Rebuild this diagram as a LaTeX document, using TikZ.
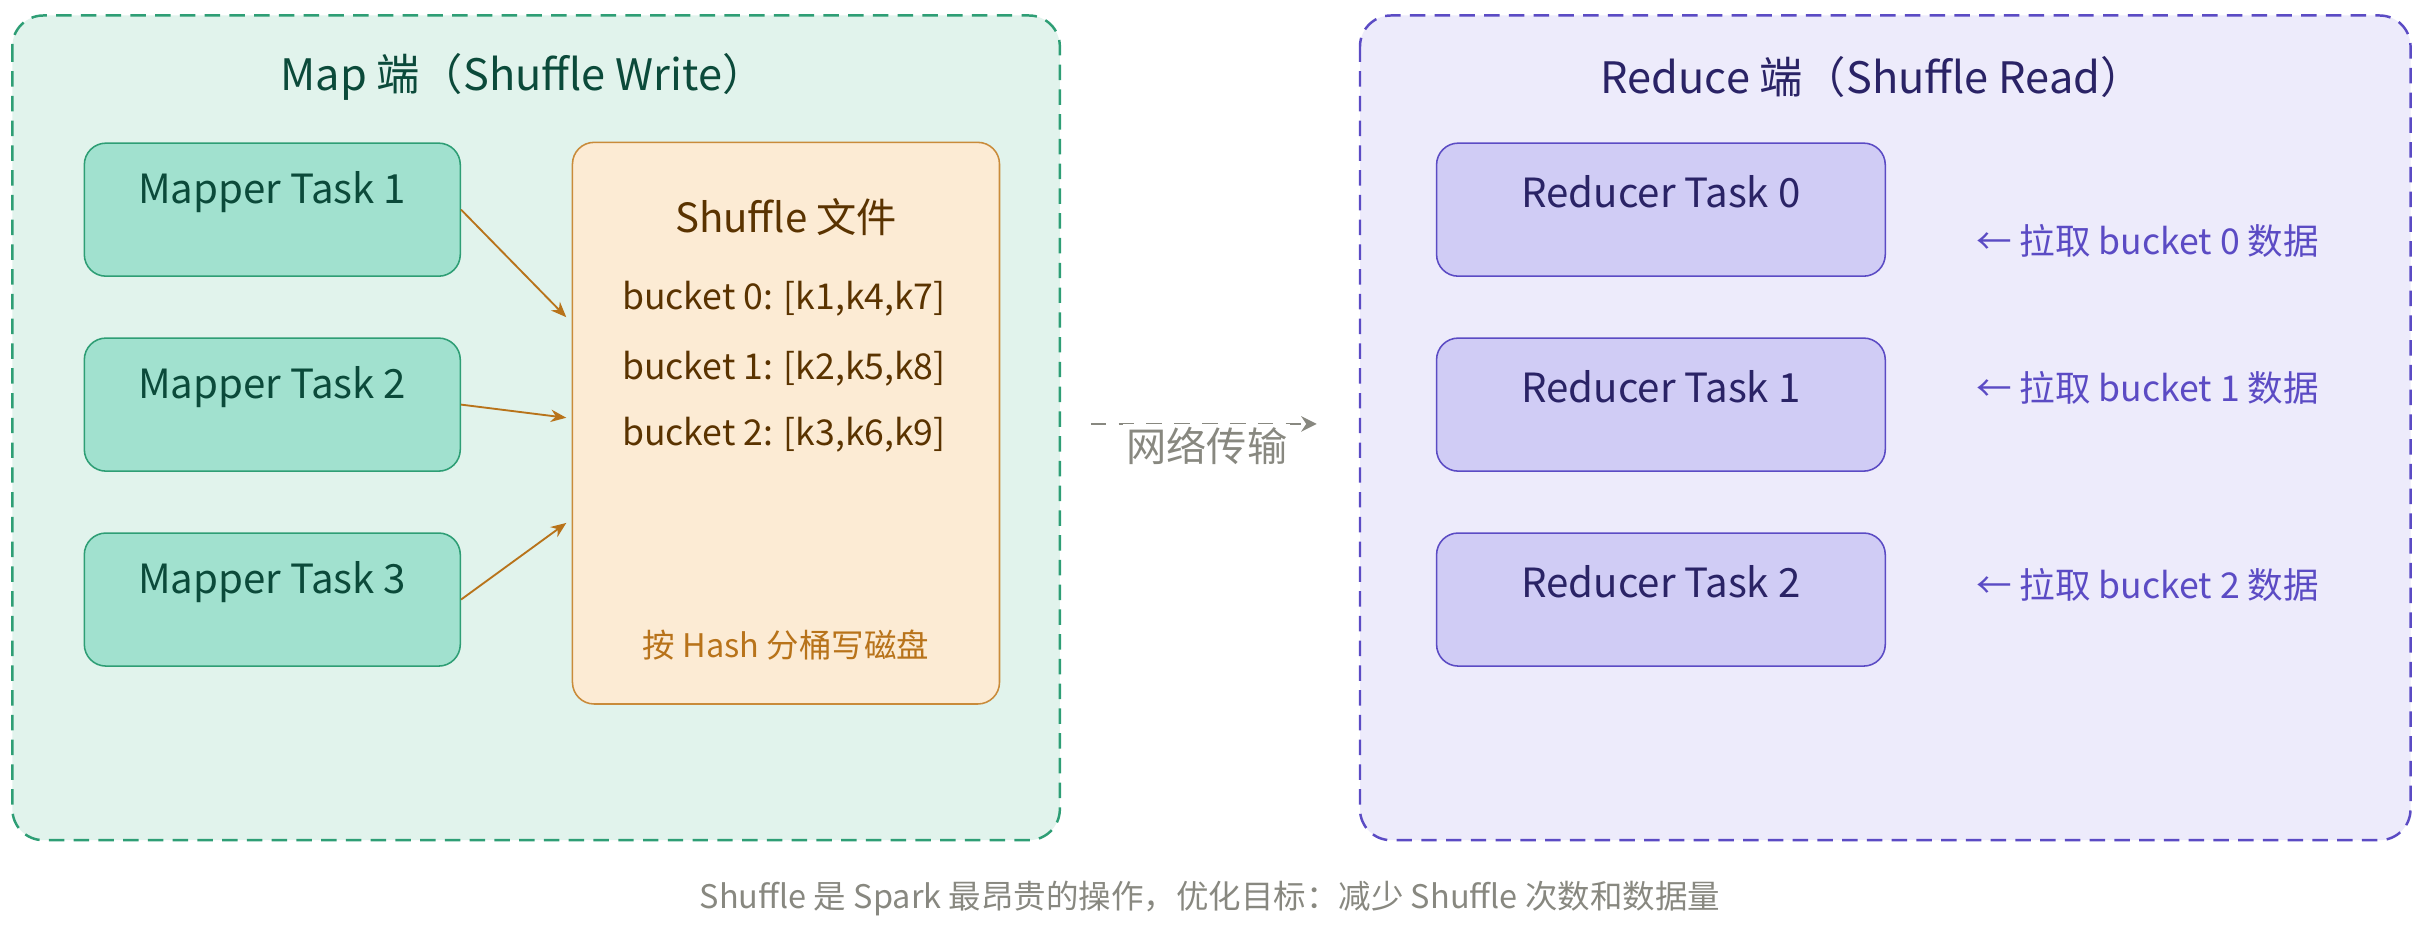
\documentclass[tikz,border=0pt]{standalone}
\usepackage{fontspec}
\setmainfont{Noto Sans CJK SC}
\usetikzlibrary{arrows.meta}
\definecolor{gfill}{HTML}{E1F3EC}\definecolor{gline}{HTML}{2E9E75}
\definecolor{pfill}{HTML}{EDEBFB}\definecolor{pline}{HTML}{5B4BC4}
\definecolor{mfill}{HTML}{A1E1CF}\definecolor{mtext}{HTML}{0B4A3A}
\definecolor{sfill}{HTML}{FCEBD4}\definecolor{sline}{HTML}{C98B3A}
\definecolor{stext}{HTML}{5A3300}\definecolor{otext}{HTML}{B8731A}
\definecolor{rfill}{HTML}{D0CCF5}\definecolor{rtext}{HTML}{2A2366}
\definecolor{gray1}{HTML}{888880}
\tikzset{
 cont/.style={draw, dashed, line width=0.8pt, rounded corners=10pt, dash pattern=on 5pt off 3pt},
 task/.style={draw, line width=0.5pt, rounded corners=7pt, minimum width=121.5pt, minimum height=43pt, anchor=north west, text depth=0pt},
 mtask/.style={task, fill=mfill, draw=gline, text=mtext},
 rtask/.style={task, fill=rfill, draw=pline, text=rtext, minimum width=145pt},
 marrow/.style={draw=otext, line width=0.6pt, -{Stealth[length=5pt,width=4pt]}},
}
\begin{document}
\begin{tikzpicture}[x=0.5pt,y=-0.5pt, font=\fontsize{13pt}{15pt}\selectfont]
\useasboundingbox (0,0) rectangle (1568,607);
\draw[cont, fill=gfill, draw=gline] (8,10) rectangle (685,543);
\draw[cont, fill=pfill, draw=pline] (879,10) rectangle (1558,543);
\node[text=mtext, font=\fontsize{14pt}{16pt}\selectfont] (lt) at (338,50) {Map 端（Shuffle Write）};
\node[text=rtext, font=\fontsize{14pt}{16pt}\selectfont] (rt) at (1210,50) {Reduce 端（Shuffle Read）};
\foreach \i/\y in {1/92,2/218,3/344}{
 \node[mtask] (m\i) at (54,\y) {};
 \node[text=mtext] at ([yshift=-16pt]m\i.north) {Mapper Task \i};
}
\draw[fill=sfill, draw=sline, line width=0.5pt, rounded corners=7pt] (370,92) rectangle (646,455);
\node[text=stext] (sf) at (508,140) {Shuffle 文件};
\begin{scope}[font=\fontsize{11.5pt}{13pt}\selectfont, text=stext]
\node[anchor=west] (b0) at (395,193) {bucket 0: [k1,k4,k7]};
\node[anchor=west] (b1) at (395,238) {bucket 1: [k2,k5,k8]};
\node[anchor=west] (b2) at (395,281) {bucket 2: [k3,k6,k9]};
\end{scope}
\node[text=otext, font=\fontsize{10.5pt}{12pt}\selectfont] (hs) at (508,417) {按 Hash 分桶写磁盘};
\coordinate (e1) at (366,205); \coordinate (e2) at (366,270); \coordinate (e3) at (366,338);
\draw[marrow] (m1.east) ++(0,0) -- (e1);
\draw[marrow] (m2.east) -- (e2);
\draw[marrow] (m3.east) -- (e3);
\foreach \i/\y in {0/92,1/218,2/344}{
 \node[rtask] (r\i) at (928,\y) {};
 \node[text=rtext] at ([yshift=-16pt]r\i.north) {Reducer Task \i};
}
\begin{scope}[text=pline, font=\fontsize{11.5pt}{13pt}\selectfont]
\node (p0) at (1388,156) {← 拉取 bucket 0 数据};
\node (p1) at (1388,251) {← 拉取 bucket 1 数据};
\node (p2) at (1388,378) {← 拉取 bucket 2 数据};
\end{scope}
\coordinate (na) at (705,274); \coordinate (nb) at (851,274);
\draw[gray1, line width=0.8pt, dash pattern=on 5pt off 4pt, -{Stealth[length=5pt,width=5pt]}] (na) -- (nb);
\node[text=gray1, fill=white, inner sep=1pt] (nl) at (780,288) {网络传输};
\node[text=gray1, font=\fontsize{10.5pt}{12pt}\selectfont] (cap) at (782,581) {Shuffle 是 Spark 最昂贵的操作，优化目标：减少 Shuffle 次数和数据量};
\end{tikzpicture}
\end{document}
